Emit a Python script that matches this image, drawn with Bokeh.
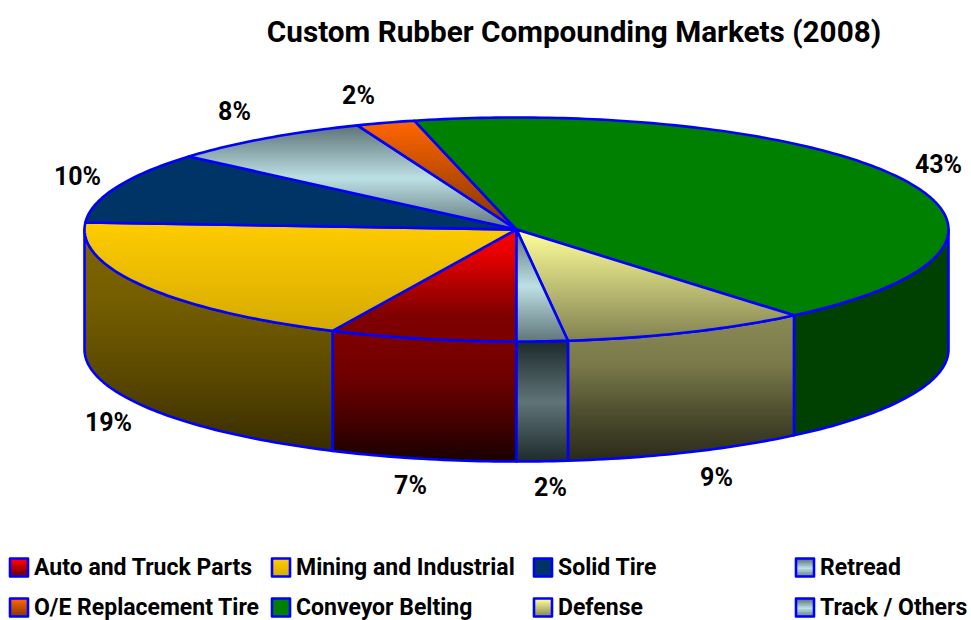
import math
from bokeh.embed import file_html
from bokeh.models import Range1d
from bokeh.plotting import figure
from bokeh.resources import INLINE
from bokeh.core.properties import value

TITLE = "Custom Rubber Compounding Markets (2008)"
categories = ["Auto and Truck Parts", "Mining and Industrial", "Solid Tire", "Retread",
              "O/E Replacement Tire", "Conveyor Belting", "Defense", "Track / Others"]
shares = [7.0, 19.0, 10.3, 7.7, 2.2, 42.7, 9.2, 1.9]
share_labels = ["7%", "19%", "10%", "8%", "2%", "43%", "9%", "2%"]
top_colors = [["#ff0000", "#e00000", "#b00000", "#800000", "#7a0000"], ["#ffcc00", "#d4aa00"], ["#003366", "#003366"],
              ["#5f7478", "#bce0e5", "#5f7478"], ["#ff6600", "#803300"], ["#008000", "#008000"],
              ["#ffff99", "#808050"], ["#5f7478", "#bce0e5", "#5f7478"]]
side_colors = [["#800000", "#700000", "#480000", "#180000"], ["#806600", "#745d00", "#5a4800", "#382c00"],
               ["#001a33", "#001a33"], ["#1e2a2c", "#5f7478", "#1e2a2c"], ["#803300", "#401a00"],
               ["#004000", "#004000"], ["#8a8a55", "#7a7a4a", "#4e4e30", "#2a2a1a"],
               ["#1e2a2c", "#5f7478", "#1e2a2c"]]

CX, CY, RX, RY, DEPTH = 516, 229, 432, 112, 120
BLUE = "#0000ff"
FONT = "Roboto"


def hex2rgb(c):
    return [int(c[i:i + 2], 16) for i in (1, 3, 5)]


def ramp(stops, f):
    f = max(0.0, min(1.0, f)) * (len(stops) - 1)
    i = min(int(f), len(stops) - 2)
    a, b = hex2rgb(stops[i]), hex2rgb(stops[i + 1])
    k = f - i
    return "#%02x%02x%02x" % tuple(round(a[j] + (b[j] - a[j]) * k) for j in range(3))


def clip_below(poly, y0):
    out = []
    for i, (x1, y1) in enumerate(poly):
        x2, y2 = poly[(i + 1) % len(poly)]
        if y1 >= y0:
            out.append((x1, y1))
        if (y1 >= y0) != (y2 >= y0):
            out.append((x1 + (x2 - x1) * (y0 - y1) / (y2 - y1), y0))
    return out


def arc(t0, t1, dy=0.0):
    n = max(2, int(abs(t1 - t0)) + 2)
    pts = []
    for i in range(n):
        t = math.radians(t0 + (t1 - t0) * i / (n - 1))
        pts.append((CX + RX * math.cos(t), CY - RY * math.sin(t) + dy))
    return pts


p = figure(width=971, height=620, output_backend="svg", toolbar_location=None,
           x_range=Range1d(0, 971), y_range=Range1d(620, 0), min_border=0,
           outline_line_color=None, x_axis_location=None, y_axis_location=None)
p.grid.visible = False


def gradient(poly, stops):
    ys = [q[1] for q in poly]
    y0, y1 = min(ys), max(ys)
    xs_all, ys_all, cols = [], [], []
    flat = len(set(stops)) == 1
    y = y0
    while y < y1:
        c = clip_below(poly, y)
        if len(c) >= 3:
            xs_all.append([q[0] for q in c])
            ys_all.append([q[1] for q in c])
            cols.append(ramp(stops, (y - y0) / max(y1 - y0, 1)))
        if flat:
            break
        y += 1.5
    p.patches(xs_all, ys_all, fill_color=cols, line_color=None)


def outline(poly, width=2.6):
    p.patch([q[0] for q in poly], [q[1] for q in poly], fill_color=None,
            line_color=BLUE, line_width=width, line_join="round")


spans, t = [], 270.0
for s in shares:
    spans.append((t, t - s * 3.6))
    t -= s * 3.6

# side walls of the slices on the front half
for (a, b), stops in zip(spans, side_colors):
    if a > 180:
        t0, t1 = max(b, 180.0), a
    elif b < 0:
        t0, t1 = max(b, -90.0), min(a, 0.0)
    else:
        continue
    if t1 > t0:
        poly = arc(t0, t1) + arc(t1, t0, DEPTH)
        gradient(poly, stops)
        outline(poly)

# top faces
for (a, b), stops in zip(spans, top_colors):
    poly = [(CX, CY)] + arc(a, b)
    gradient(poly, stops)
    outline(poly)

# percentage labels
label_xy = [(410, 485), (108, 422), (77, 176), (234, 111), (358, 95), (938, 164), (716, 477), (550, 487)]
for txt, (lx, ly) in zip(share_labels, label_xy):
    p.text([lx], [ly], text=[txt], text_font=value(FONT), text_font_style="bold",
           text_font_size="25px", text_color="#000000", text_align="center", text_baseline="middle")

p.text([573.5], [31], text=[TITLE], text_font=value(FONT), text_font_style="bold",
       text_font_size="29.7px", text_color="#000000", text_align="center", text_baseline="middle")

# legend
columns = [9.5, 271.5, 533.5, 795.5]
rows = [567, 607]
for i, (name, stops) in enumerate(zip(categories, top_colors)):
    x, y = columns[i % 4], rows[i // 4]
    box = [(x, y - 9), (x + 18, y - 9), (x + 18, y + 9), (x, y + 9)]
    gradient(box, stops)
    outline(box, 2.6)
    p.text([x + 24], [y], text=[name], text_font=value(FONT), text_font_style="bold",
           text_font_size="23px", text_color="#000000", text_align="left", text_baseline="middle")

open("out.html", "w").write(file_html(p, INLINE))
